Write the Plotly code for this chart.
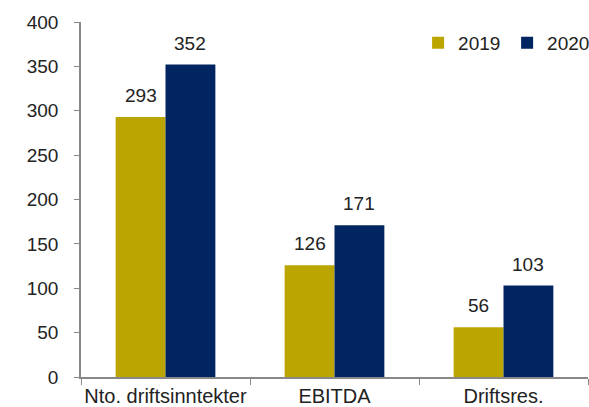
import plotly.graph_objects as go

categories = ["Nto. driftsinntekter", "EBITDA", "Driftsres."]
values_2019 = [293, 126, 56]
values_2020 = [352, 171, 103]
y_ticks = [0, 50, 100, 150, 200, 250, 300, 350, 400]
series = [("2019", values_2019, "#BBA500"), ("2020", values_2020, "#002561")]

font = dict(family="Liberation Sans, Arial, sans-serif", size=19, color="#222222")
cat_font = dict(family="Liberation Sans, Arial, sans-serif", size=20, color="#222222")
bargap = 0.41
bar_w = (1 - bargap) / len(series)

fig = go.Figure()
annotations = []
for k, (name, vals, color) in enumerate(series):
    fig.add_trace(go.Bar(name=name, x=categories, y=vals, marker_color=color,
                         marker_line_width=0))
    offset = (k - (len(series) - 1) / 2) * bar_w
    for i, v in enumerate(vals):
        annotations.append(dict(x=i + offset, y=v, xref="x", yref="y", text=str(v),
                                showarrow=False, yanchor="bottom", yshift=9,
                                font=font))

fig.update_layout(
    width=589, height=407,
    margin=dict(l=81, r=1, t=22, b=30, autoexpand=False),
    paper_bgcolor="white", plot_bgcolor="white",
    barmode="group", bargap=bargap, bargroupgap=0,
    font=font,
    showlegend=True,
    legend=dict(orientation="h", x=1.016, y=0.995, xanchor="right", yanchor="top",
                font=font, itemwidth=30, entrywidth=44, entrywidthmode="pixels",
                bgcolor="rgba(0,0,0,0)", traceorder="normal"),
    annotations=annotations,
    xaxis=dict(type="category", tickson="boundaries", ticks="outside", ticklen=6,
               tickcolor="#888888", showline=True, linecolor="#888888", linewidth=1.5,
               showgrid=False, tickfont=cat_font, range=[-0.5, 2.5],
               tickangle=0, automargin=False),
    yaxis=dict(range=[0, 400], tickvals=y_ticks, ticks="outside", ticklen=5,
               tickcolor="#888888", showline=True, linecolor="#888888", linewidth=1.5,
               showgrid=False, zeroline=False, tickfont=font, ticklabelstandoff=12,
               automargin=False),
)

fig.write_html("out.html", config={"displayModeBar": False},
               post_script="document.body.style.margin='0';document.body.style.overflow='hidden';")
